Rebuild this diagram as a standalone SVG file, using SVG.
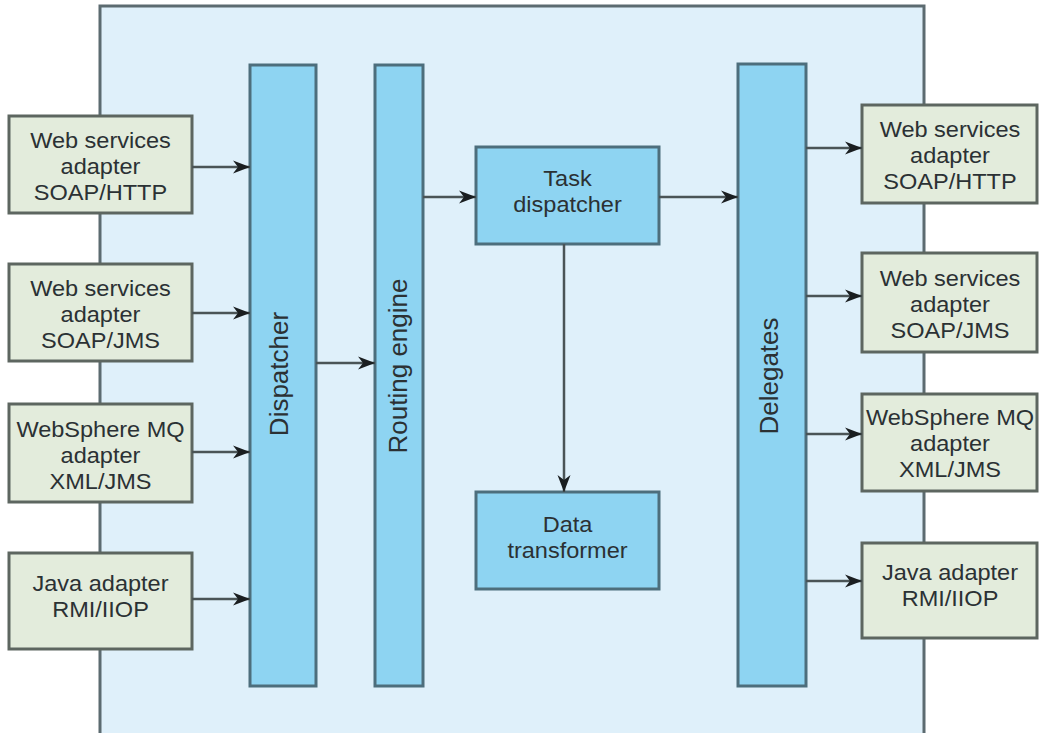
<svg xmlns="http://www.w3.org/2000/svg" width="1039" height="733" viewBox="0 0 1039 733">
  <style>
    .container { fill: #dff0fa; stroke: #5c6b70; stroke-width: 3; }
    .bar { fill: #8ed4f2; stroke: #4d6e7c; stroke-width: 3; }
    .adapter { fill: #e3ecdc; stroke: #5d6660; stroke-width: 3; }
    .label { font-family: "Liberation Sans", Arial, sans-serif; font-size: 22px; fill: #2b3134; text-anchor: middle; }
    .vlabel { font-family: "Liberation Sans", Arial, sans-serif; font-size: 26px; fill: #2b3134; text-anchor: middle; }
    .link { fill: none; stroke: #4a5456; stroke-width: 2.5; marker-end: url(#arrow); }
  </style>
  <defs>
    <marker id="arrow" markerUnits="userSpaceOnUse" markerWidth="18" markerHeight="14" refX="17" refY="7" orient="auto">
      <path d="M0,0.5 L17,7 L0,13.5 L5,7 Z" fill="#1a1e20"/>
    </marker>
  </defs>

  <rect width="1039" height="733" fill="#ffffff"/>

  <!-- message broker boundary -->
  <g id="broker">
    <rect class="container" x="100" y="6" width="824" height="740"/>
  </g>

  <!-- processing components -->
  <g id="dispatcher">
    <rect class="bar" x="250" y="65" width="66" height="621"/>
    <text class="vlabel" transform="translate(288 374) rotate(-90)">Dispatcher</text>
  </g>
  <g id="routing-engine">
    <rect class="bar" x="375" y="65" width="48" height="621"/>
    <text class="vlabel" transform="translate(407 366) rotate(-90)">Routing engine</text>
  </g>
  <g id="task-dispatcher">
    <rect class="bar" x="476" y="147" width="183" height="97"/>
    <text class="label" transform="translate(567.5 0) scale(1.07 1)"><tspan x="0" y="186">Task</tspan><tspan x="0" y="212">dispatcher</tspan></text>
  </g>
  <g id="data-transformer">
    <rect class="bar" x="476" y="492" width="183" height="97"/>
    <text class="label" transform="translate(567.5 0) scale(1.07 1)"><tspan x="0" y="532">Data</tspan><tspan x="0" y="558">transformer</tspan></text>
  </g>
  <g id="delegates">
    <rect class="bar" x="738" y="64" width="68" height="622"/>
    <text class="vlabel" transform="translate(778 376) rotate(-90)">Delegates</text>
  </g>

  <!-- inbound adapters -->
  <g id="in-soap-http">
    <rect class="adapter" x="9" y="116" width="183" height="97"/>
    <text class="label" transform="translate(100.5 0) scale(1.07 1)"><tspan x="0" y="148">Web services</tspan><tspan x="0" y="174">adapter</tspan><tspan x="0" y="200">SOAP/HTTP</tspan></text>
  </g>
  <g id="in-soap-jms">
    <rect class="adapter" x="9" y="264" width="183" height="97"/>
    <text class="label" transform="translate(100.5 0) scale(1.07 1)"><tspan x="0" y="296">Web services</tspan><tspan x="0" y="322">adapter</tspan><tspan x="0" y="348">SOAP/JMS</tspan></text>
  </g>
  <g id="in-mq">
    <rect class="adapter" x="9" y="404" width="183" height="98"/>
    <text class="label" transform="translate(100.5 0) scale(1.07 1)"><tspan x="0" y="437">WebSphere MQ</tspan><tspan x="0" y="463">adapter</tspan><tspan x="0" y="489">XML/JMS</tspan></text>
  </g>
  <g id="in-java">
    <rect class="adapter" x="9" y="553" width="183" height="96"/>
    <text class="label" transform="translate(100.5 0) scale(1.07 1)"><tspan x="0" y="591">Java adapter</tspan><tspan x="0" y="617">RMI/IIOP</tspan></text>
  </g>

  <!-- outbound adapters -->
  <g id="out-soap-http">
    <rect class="adapter" x="862" y="105" width="175" height="98"/>
    <text class="label" transform="translate(950 0) scale(1.07 1)"><tspan x="0" y="137">Web services</tspan><tspan x="0" y="163">adapter</tspan><tspan x="0" y="189">SOAP/HTTP</tspan></text>
  </g>
  <g id="out-soap-jms">
    <rect class="adapter" x="862" y="253" width="175" height="99"/>
    <text class="label" transform="translate(950 0) scale(1.07 1)"><tspan x="0" y="286">Web services</tspan><tspan x="0" y="312">adapter</tspan><tspan x="0" y="338">SOAP/JMS</tspan></text>
  </g>
  <g id="out-mq">
    <rect class="adapter" x="862" y="394" width="175" height="97"/>
    <text class="label" transform="translate(950 0) scale(1.07 1)"><tspan x="0" y="425">WebSphere MQ</tspan><tspan x="0" y="451">adapter</tspan><tspan x="0" y="477">XML/JMS</tspan></text>
  </g>
  <g id="out-java">
    <rect class="adapter" x="862" y="543" width="175" height="95"/>
    <text class="label" transform="translate(950 0) scale(1.07 1)"><tspan x="0" y="580">Java adapter</tspan><tspan x="0" y="606">RMI/IIOP</tspan></text>
  </g>

  <!-- message flow -->
  <g id="connectors">
    <line class="link" x1="192" y1="167" x2="250" y2="167"/>
    <line class="link" x1="192" y1="313" x2="250" y2="313"/>
    <line class="link" x1="192" y1="452" x2="250" y2="452"/>
    <line class="link" x1="192" y1="599" x2="250" y2="599"/>
    <line class="link" x1="316" y1="363" x2="375" y2="363"/>
    <line class="link" x1="423" y1="197" x2="476" y2="197"/>
    <line class="link" x1="659" y1="197" x2="738" y2="197"/>
    <line class="link" x1="564" y1="244" x2="564" y2="492"/>
    <line class="link" x1="806" y1="148" x2="862" y2="148"/>
    <line class="link" x1="806" y1="296" x2="862" y2="296"/>
    <line class="link" x1="806" y1="434" x2="862" y2="434"/>
    <line class="link" x1="806" y1="581" x2="862" y2="581"/>
  </g>
</svg>
